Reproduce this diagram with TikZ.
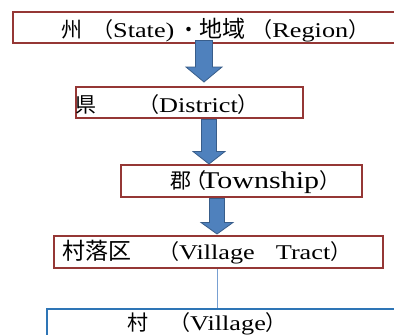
\documentclass[tikz,border=0pt]{standalone}
\usepackage{fontspec}
\setmainfont[FakeStretch=1.25]{Liberation Serif}
\newfontfamily\cjk{Noto Sans CJK JP}
\usetikzlibrary{calc}
\definecolor{boxred}{RGB}{149,55,53}
\definecolor{arrfill}{RGB}{79,129,189}
\definecolor{arrline}{RGB}{56,93,138}
\definecolor{boxblue}{RGB}{46,117,182}
\definecolor{linkblue}{RGB}{120,160,210}
\newcommand\blkarrow[5]{%
  \draw[blockarrow] let \p1=(#1), \p2=(#2) in
    (\x1-#3pt,\y1) -- (\x1+#3pt,\y1) -- (\x1+#3pt,\y2+#5pt) -- (\x1+#4pt,\y2+#5pt)
    -- (\x1,\y2) -- (\x1-#4pt,\y2+#5pt) -- (\x1-#3pt,\y2+#5pt) -- cycle;}
\newcommand\fs[1]{\fontsize{#1}{#1}\selectfont}
\begin{document}
\begin{tikzpicture}[x=1pt,y=-1pt,
  redbox/.style={draw=boxred,line width=2.4pt,fill=white,inner sep=0pt,anchor=north west},
  bluebox/.style={draw=boxblue,line width=2pt,fill=white,inner sep=0pt,anchor=north west},
  blockarrow/.style={fill=arrfill,draw=arrline,line width=0.8pt,line join=miter},
  link/.style={draw=linkblue,line width=0.8pt},
  lbl/.style={anchor=base west,inner sep=0pt,font=\fs{21}}]
\useasboundingbox (0,0) rectangle (394,335);
\fill[white] (0,0) rectangle (394,335);
% boxes
\node[redbox,minimum width=420pt,minimum height=31pt] (b1) at (12,11) {};
\node[redbox,minimum width=227pt,minimum height=31pt] (b2) at (75,86) {};
\node[redbox,minimum width=241pt,minimum height=32pt] (b3) at (120,164) {};
\node[redbox,minimum width=329pt,minimum height=32pt] (b4) at (53,235) {};
\node[bluebox,minimum width=420pt,minimum height=60pt] (b5) at (46,308) {};
% texts
\node[lbl] (t1) at (61,37) {{\cjk 州\hspace{10pt}（}State)\hspace{4pt}{\cjk ・{\fs{23}地域}\hspace{6pt}（}Region{\cjk ）}};
\node[lbl] (t2) at (75,112) {{\cjk 県　　（}District{\cjk ）}};
\node[lbl,font=\fs{24}] (t3) at (170,188) {{\cjk\fs{21}郡\hspace{-6pt}（}\hspace{-5pt}Township{\cjk\fs{21}）}};
\node[lbl] (t4) at (62,259) {{\cjk\fs{23}村落区}{\cjk　\hspace{6pt}（}Village{\cjk 　}Tract{\cjk ）}};
\node[lbl] (t5) at (127,330) {{\cjk 村　（}Village{\cjk ）}};
% connectors
\coordinate (x1) at (204,0);
\coordinate (x2) at (209,0);
\coordinate (x3) at (217,0);
\coordinate (a1s) at ($(b1.south -| x1)+(0,-4)$);
\coordinate (a1e) at ($(b2.north -| x1)+(0,-4)$);
\coordinate (a2s) at (b2.south -| x2);
\coordinate (a2e) at (b3.north -| x2);
\coordinate (a3s) at (b3.south -| x3);
\coordinate (a3e) at ($(b4.north -| x3)+(0,-1)$);
\blkarrow{a1s}{a1e}{8.5}{18}{15}
\blkarrow{a2s}{a2e}{7.5}{16}{12.5}
\blkarrow{a3s}{a3e}{7.5}{16}{11.5}
\draw[link] (b4.south -| x3) -- (b5.north -| x3);
\end{tikzpicture}
\end{document}
